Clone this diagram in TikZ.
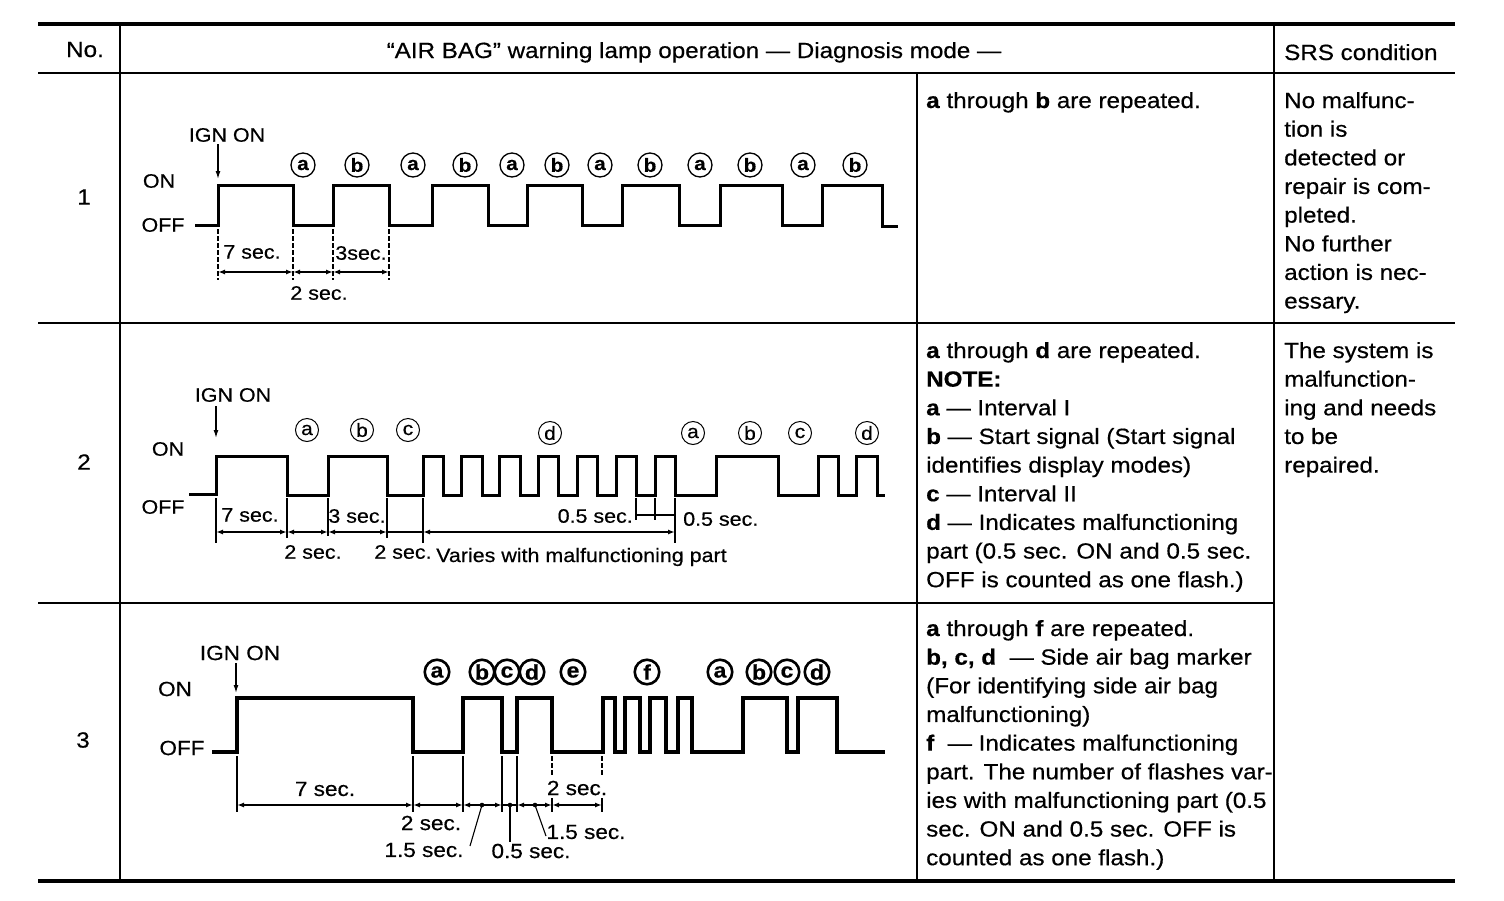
\documentclass[tikz,border=0pt]{standalone}
\usepackage{fontspec}
\setmainfont{Liberation Sans}[FakeStretch=1.1,FakeBold=0.5]
\usetikzlibrary{arrows.meta}
\begin{document}
\begin{tikzpicture}[x=1pt,y=-1pt,
  rule/.style={line width=2.4pt},
  heavyrule/.style={line width=4pt},
  wave/.style={line width=3pt, line join=miter, line cap=butt},
  wavebold/.style={line width=3.4pt, line join=miter, line cap=butt},
  body/.style={anchor=base west, inner sep=0pt, font=\fontsize{22}{26}\selectfont},
  hdr/.style={anchor=base, inner sep=0pt, font=\fontsize{22}{26}\selectfont},
  lbl/.style={inner sep=0pt, font=\fontsize{19.5}{22}\selectfont},
  lblc/.style={inner sep=0pt, font=\fontsize{20.5}{22}\selectfont},
  circA/.style={draw, circle, line width=1.3pt, inner sep=0pt, minimum size=24pt, font=\bfseries\fontsize{19}{19}\selectfont},
  circB/.style={draw, circle, line width=1pt, inner sep=0pt, minimum size=23pt, font=\fontsize{19}{19}\selectfont},
  circC/.style={draw, circle, line width=2.6pt, inner sep=0pt, minimum size=24.5pt, font=\bfseries\fontsize{21}{21}\selectfont},
  dimline/.style={line width=1.4pt, {Latex[length=7pt,width=5pt]}-{Latex[length=7pt,width=5pt]}},
  plainline/.style={line width=1.4pt},
  ticker/.style={line width=1.1pt},
  dticker/.style={line width=1.1pt, dash pattern=on 5pt off 2pt},
  ignarrow/.style={line width=1.3pt, -{Latex[length=8pt,width=5pt]}},
]
\useasboundingbox (0,0) rectangle (1504,900);

% ---------------- table rules ----------------
\draw[heavyrule] (38,24) -- (1455,24);
\draw[rule] (38,73) -- (1455,73);
\draw[rule] (38,323) -- (1455,323);
\draw[rule] (38,603) -- (1274,603);
\draw[heavyrule] (38,881) -- (1455,881);
\draw[rule] (120,24) -- (120,881);
\draw[rule] (917,73) -- (917,881);
\draw[rule] (1274,24) -- (1274,881);

% ---------------- header ----------------
\node[hdr] (hNo) at (85,57) {No.};
\node[hdr] (hMain) at (694,58) {“AIR BAG” warning lamp operation — Diagnosis mode —};
\node[body] (hSRS) at (1284,60) {SRS condition};

\node[inner sep=0pt, font=\fontsize{22}{26}\selectfont] (n1) at (84,197) {1};
\node[inner sep=0pt, font=\fontsize{22}{26}\selectfont] (n2) at (84,462) {2};
\node[inner sep=0pt, font=\fontsize{22}{26}\selectfont] (n3) at (83,740) {3};

% ---------------- right-hand texts ----------------
\node[body] (t1) at (926,108) {\textbf{a} through \textbf{b} are repeated.};
\foreach \t [count=\i from 0] in {{No malfunc-},{tion is},{detected or},{repair is com-},{pleted.},{No further},{action is nec-},{essary.}}
  \node[body] (s1l\i) at (1284,{108+28.65*\i}) {\t};

\foreach \t [count=\i from 0] in {{\textbf{a} through \textbf{d} are repeated.},{\textbf{NOTE:}},{\textbf{a} — Interval I},{\textbf{b} — Start signal (Start signal},{identifies display modes)},{\textbf{c} — Interval II},{\textbf{d} — Indicates malfunctioning},{part (0.5 sec. ON and 0.5 sec.},{OFF is counted as one flash.)}}
  \node[body] (t2l\i) at (926,{358+28.65*\i}) {\t};
\foreach \t [count=\i from 0] in {{The system is},{malfunction-},{ing and needs},{to be},{repaired.}}
  \node[body] (s2l\i) at (1284,{358+28.65*\i}) {\t};

\foreach \t [count=\i from 0] in {{\textbf{a} through \textbf{f} are repeated.},{\textbf{b, c, d}\ \ — Side air bag marker},{(For identifying side air bag},{malfunctioning)},{\textbf{f}\ \ — Indicates malfunctioning},{part. The number of flashes var-},{ies with malfunctioning part (0.5},{sec. ON and 0.5 sec. OFF is},{counted as one flash.)}}
  \node[body] (t3l\i) at (926,{636+28.65*\i}) {\t};

% ================= Row 1 diagram =================
\node[lbl] (ign1) at (227,135) {IGN ON};
\coordinate (ign1t) at (218,179);
\draw[ignarrow] (ign1.south -| ign1t) ++(0,2) -- (ign1t);
\node[lbl] (on1) at (159,181) {ON};
\node[lbl] (off1) at (163,225) {OFF};
\draw[wave] (195,225) -| (218,185) -| (293,225) -| (333,185) -| (389,225) -| (432,185) -| (488,225) -| (527,185) -| (582,225) -| (622,185) -| (679,225) -| (720,185) -| (782,225) -| (822,185) -| (882,226) -- (898,226);
\foreach \l/\x [count=\i] in {a/303,b/357,a/413,b/465,a/512,b/557,a/600,b/650,a/700,b/750,a/803,b/855}
  \node[circA] (r1c\i) at (\x,165) {\l};
\foreach \x in {218,293,333,389}
  \draw[dticker] (\x,229) -- (\x,280);
\draw[dimline] (218,272) -- (293,272);
\draw[dimline] (293,272) -- (333,272);
\draw[dimline] (333,272) -- (389,272);
\node[lbl] (d1a) at (252,252) {7 sec.};
\node[lbl] (d1b) at (361,253) {3sec.};
\node[lbl] (d1c) at (319,293) {2 sec.};

% ================= Row 2 diagram =================
\node[lbl] (ign2) at (233,395) {IGN ON};
\coordinate (ign2t) at (216,438);
\draw[ignarrow] (ign2.south -| ign2t) ++(0,4) -- (ign2t);
\node[lbl] (on2) at (168,449) {ON};
\node[lbl] (off2) at (163,507) {OFF};
\draw[wave] (189,494) -| (216,456) -| (287,495) -| (328,456) -| (387,495) -| (423,456) -| (443,495) -| (461,456) -| (482,495) -| (499,456) -| (520,495) -| (538,456) -| (558,495) -| (577,456) -| (597,495) -| (616,456) -| (636,495) -| (655,456) -| (675,495) -| (716,456) -| (778,495) -| (818,456) -| (838,495) -| (856,456) -| (877,495) -- (885,495);
\foreach \l/\x/\y [count=\i] in {a/307/430,b/362/430,c/408/430,d/550/433,a/693/433,b/750/433,c/800/433,d/867/433}
  \node[circB] (r2c\i) at (\x,\y) {\l};
\foreach \x/\e in {216/543,287/538,328/536,387/538,423/543,675/543}
  \draw[ticker] (\x,498) -- (\x,\e);
\draw[ticker] (636,498) -- (636,520);
\draw[ticker] (655,498) -- (655,520);
\draw[dimline] (216,532) -- (287,532);
\draw[dimline] (287,532) -- (328,532);
\draw[dimline] (328,532) -- (387,532);
\draw[plainline] (387,532) -- (423,532);
\draw[dimline] (423,532) -- (675,532);
\draw[plainline] (636,515) -- (675,515);
\node[lbl] (d2a) at (250,515) {7 sec.};
\node[lbl] (d2b) at (357,516) {3 sec.};
\node[lbl] (d2c) at (313,552) {2 sec.};
\node[lbl] (d2d) at (403,552) {2 sec.};
\node[lbl, anchor=base west] (d2e) at (436,562) {Varies with malfunctioning part};
\node[lbl, anchor=east] (d2f) at (633,516) {0.5 sec.};
\node[lbl, anchor=west] (d2g) at (683,519) {0.5 sec.};

% ================= Row 3 diagram =================
\node[lblc] (ign3) at (240,653) {IGN ON};
\coordinate (ign3t) at (236,693);
\draw[ignarrow] (ign3.south -| ign3t) ++(0,3) -- (ign3t);
\node[lblc] (on3) at (175,689) {ON};
\node[lblc] (off3) at (182,748) {OFF};
\draw[wavebold] (212,752) -| (237,698) -| (413,752) -| (463,698) -| (502,752) -| (517,698) -| (552,752) -| (603,698) -| (615,752) -| (625,698) -| (640,752) -| (650,698) -| (666,752) -| (678,698) -| (692,752) -| (743,698) -| (787,752) -| (798,698) -| (837,752) -- (885,752);
\foreach \l/\x [count=\i] in {a/437,b/482,c/507,d/532,e/573,f/647,a/720,b/759,c/787,d/817}
  \node[circC] (r3c\i) at (\x,672) {\l};
\foreach \x in {237,413,463,502,517}
  \draw[ticker] (\x,756) -- (\x,812);
\foreach \x in {552,602} {
  \draw[dticker] (\x,756) -- (\x,775);
  \draw[ticker] (\x,798) -- (\x,812);
}
\draw[dimline] (237,805) -- (413,805);
\draw[dimline] (413,805) -- (463,805);
\draw[dimline] (463,805) -- (502,805);
\draw[plainline] (502,805) -- (517,805);
\draw[dimline] (517,805) -- (552,805);
\draw[dimline] (552,805) -- (602,805);
\fill (482,805) circle (2.3);
\fill (510,805) circle (2.3);
\fill (535,805) circle (2.3);
\coordinate (lead1) at (470,846);
\coordinate (lead2) at (510,842);
\coordinate (lead3) at (546,836);
\draw[ticker] (482,805) -- (lead1);
\draw[ticker] (510,805) -- (lead2);
\draw[ticker] (535,805) -- (lead3);
\node[lblc] (d3a) at (325,789) {7 sec.};
\node[lblc] (d3b) at (431,823) {2 sec.};
\node[lblc] (d3c) at (424,850) {1.5 sec.};
\node[lblc] (d3d) at (531,851) {0.5 sec.};
\node[lblc] (d3e) at (586,832) {1.5 sec.};
\node[lblc] (d3f) at (577,788) {2 sec.};
\end{tikzpicture}
\end{document}
